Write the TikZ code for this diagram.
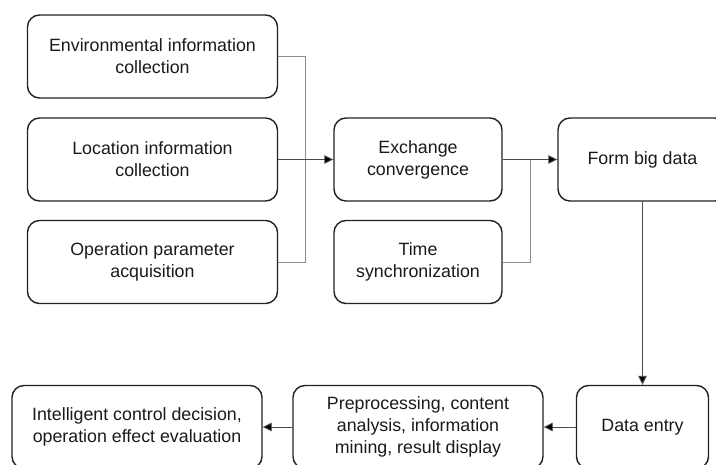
\documentclass[tikz,border=0pt]{standalone}
\usepackage{fontspec}
\setmainfont{Liberation Sans}
\usetikzlibrary{arrows.meta}
\definecolor{boxline}{HTML}{222222}
\definecolor{txt}{HTML}{1A1A1A}
\definecolor{wire}{HTML}{8C8C8C}
\definecolor{arrowline}{HTML}{4A4A4A}
\begin{document}
\begin{tikzpicture}[x=1pt,y=-1pt,
  box/.style={draw=boxline,line width=1.4pt,rounded corners=12pt,
    minimum height=83pt,align=center,text=txt,inner sep=0pt,
    font=\fontsize{17.8}{21.8}\selectfont},
  wide/.style={box,minimum width=250pt},
  mid/.style={box,minimum width=168pt},
  link/.style={draw=wire,line width=0.9pt},
  flow/.style={draw=arrowline,line width=0.9pt,
    -{Triangle[length=9pt,width=8.5pt,fill=black]}}]
\useasboundingbox (0,0) rectangle (716,464);

% input collection
\node[wide] (env) at (152.5,56.5) {Environmental information\\collection};
\node[wide] (loc) at (152.5,159.5) {Location information\\collection};
\node[wide] (op)  at (152.5,262)  {Operation parameter\\acquisition};

% convergence stage
\node[mid] (exch) at (418,159.5) {Exchange\\convergence};
\node[mid] (sync) at (418,262)   {Time\\synchronization};
\node[box,minimum width=169pt] (big) at (642.5,159.5) {Form big data};

% processing chain
\node[box,minimum width=132pt] (entry) at (642.5,427) {Data entry};
\node[wide] (pre) at (418,427) {Preprocessing, content\\analysis, information\\mining, result display};
\node[wide] (ctrl) at (137,427) {Intelligent control decision,\\operation effect evaluation};

% bracket joining the three collectors
\coordinate (jl) at (305,56.5);
\coordinate (jr) at (530,262);
\draw[link] (env.east) -- (jl) |- (op.east);
\draw[flow] (loc.east) -- (exch.west);

% time sync merges into the exchange output
\draw[link] (sync.east) -- (jr) -- (jr |- exch.east);
\draw[flow] (exch.east) -- (big.west);

\draw[flow] (big.south) -- (entry.north);
\draw[flow] (entry.west) -- (pre.east);
\draw[flow] (pre.west) -- (ctrl.east);
\end{tikzpicture}
\end{document}
